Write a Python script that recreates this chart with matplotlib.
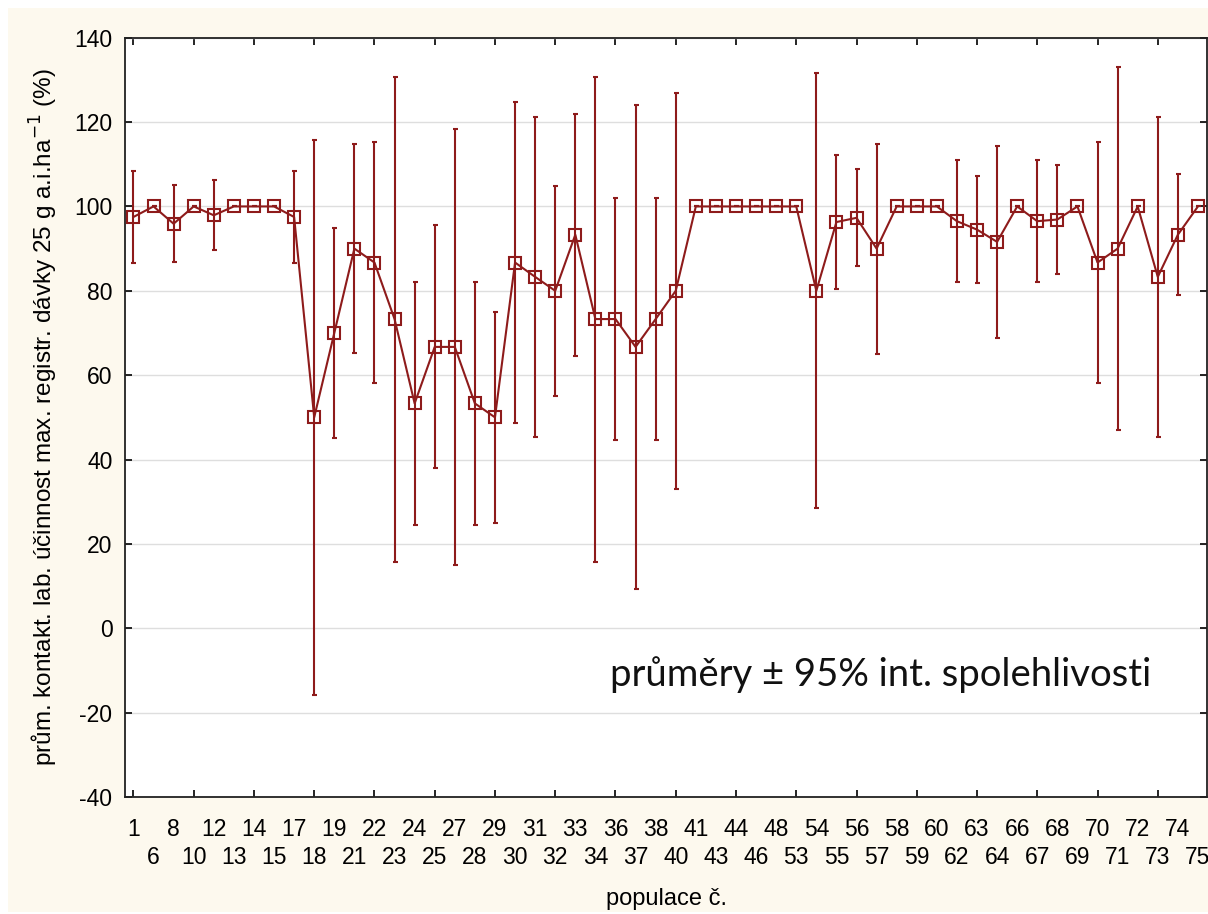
import matplotlib
matplotlib.use("Agg")
import matplotlib.pyplot as plt
from matplotlib.patches import Rectangle
import numpy as np

populations = [1, 6, 8, 10, 12, 13, 14, 15, 17, 18, 19, 21, 22, 23, 24, 25, 27, 28,
               29, 30, 31, 32, 33, 34, 36, 37, 38, 40, 41, 43, 44, 46, 48, 53, 54, 55,
               56, 57, 58, 59, 60, 62, 63, 64, 66, 67, 68, 69, 70, 71, 72, 73, 74, 75]

means = [97.5, 100, 95.9, 100, 97.9, 100, 100, 100, 97.5, 50, 70, 90, 86.7, 73.3,
         53.3, 66.7, 66.7, 53.3, 50, 86.7, 83.3, 80, 93.3, 73.3, 73.3, 66.7, 73.3, 80,
         100, 100, 100, 100, 100, 100, 80, 96.3, 97.3, 90, 100, 100, 100, 96.5, 94.5,
         91.6, 100, 96.5, 96.9, 100, 86.7, 90, 100, 83.3, 93.3, 100]

ci95 = [11, 0, 9.1, 0, 8.3, 0, 0, 0, 11, 65.8, 25, 24.8, 28.6, 57.5,
        28.8, 28.8, 51.7, 28.8, 25, 38, 38, 24.9, 28.7, 57.5, 28.7, 57.3, 28.7, 47,
        0, 0, 0, 0, 0, 0, 51.6, 15.9, 11.5, 24.9, 0, 0, 0, 14.5, 12.6,
        22.8, 0, 14.5, 13, 0, 28.6, 43, 0, 38, 14.4, 0]

yticks = [-40, -20, 0, 20, 40, 60, 80, 100, 120, 140]

W, H = 1208, 914
fig = plt.figure(figsize=(W / 100, H / 100), dpi=100)
fig.patch.set_facecolor("white")
fig.patches.append(Rectangle((8 / W, 0.002), 1 - 8 / W, 1 - 8 / H - 0.002,
                             transform=fig.transFigure, facecolor="#fdf9ee",
                             edgecolor="none", zorder=-10))

ax = fig.add_axes([125 / W, 1 - 797 / H, (1207 - 125) / W, (797 - 37.7) / H])
ax.set_facecolor("white")

plt.rcParams["font.family"] = ["Liberation Sans", "DejaVu Sans"]

x = np.arange(len(populations))
col = "#8e1b1b"
ax.errorbar(x, means, yerr=ci95, fmt="none", ecolor=col, elinewidth=1.5,
            capsize=1.8, capthick=1.5, zorder=3)
ax.plot(x, means, color=col, lw=1.5, marker="s", markersize=9,
        markerfacecolor="none", markeredgecolor=col, markeredgewidth=1.5, zorder=4)

ax.set_ylim(-40, 140)
ax.set_xlim(-0.42, len(populations) - 1 + 0.45)
ax.set_yticks(yticks)
ax.set_yticklabels([str(v) for v in yticks], fontsize=16.5, family="Liberation Sans")
ax.yaxis.grid(True, color="#dedede", lw=1)
ax.set_axisbelow(True)

# tick marks every third category, inward, top and bottom (no labels)
ax.set_xticks(x[::3])
ax.set_xticklabels([])
ax.tick_params(axis="x", direction="in", length=5, width=1.2, top=True, bottom=True)
ax.tick_params(axis="y", direction="in", length=5, width=1.2, left=True, right=True,
               pad=9)

# first row of category labels (even positions)
row1 = ax.secondary_xaxis("bottom")
row1.set_xticks(x[::2])
row1.set_xticklabels([str(p) for p in populations[::2]], fontsize=16.5,
                     family="Liberation Sans")
row1.tick_params(axis="x", length=0, pad=15)
row1.spines["bottom"].set_visible(False)

# second row of category labels (odd positions)
row2 = ax.secondary_xaxis("bottom")
row2.set_xticks(x[1::2])
row2.set_xticklabels([str(p) for p in populations[1::2]], fontsize=16.5,
                     family="Liberation Sans")
row2.tick_params(axis="x", length=0, pad=35)
row2.spines["bottom"].set_visible(False)

for s in ax.spines.values():
    s.set_linewidth(1.3)
    s.set_color("#222222")

ax.set_ylabel("prům. kontakt. lab. účinnost max. registr. dávky 25 g a.i.ha$^{-1}$ (%)",
              fontsize=17.5, family="Liberation Sans", labelpad=10)
row2.set_xlabel("populace č.", fontsize=17, family="Liberation Sans", labelpad=14)

ax.text(0.448, 0.146, "průměry ± 95% int. spolehlivosti", transform=ax.transAxes,
        fontsize=27.5, family=["Lato", "DejaVu Sans"], color="#111111",
        ha="left", va="baseline")

fig.savefig("out.png", dpi=100, facecolor=fig.get_facecolor())
